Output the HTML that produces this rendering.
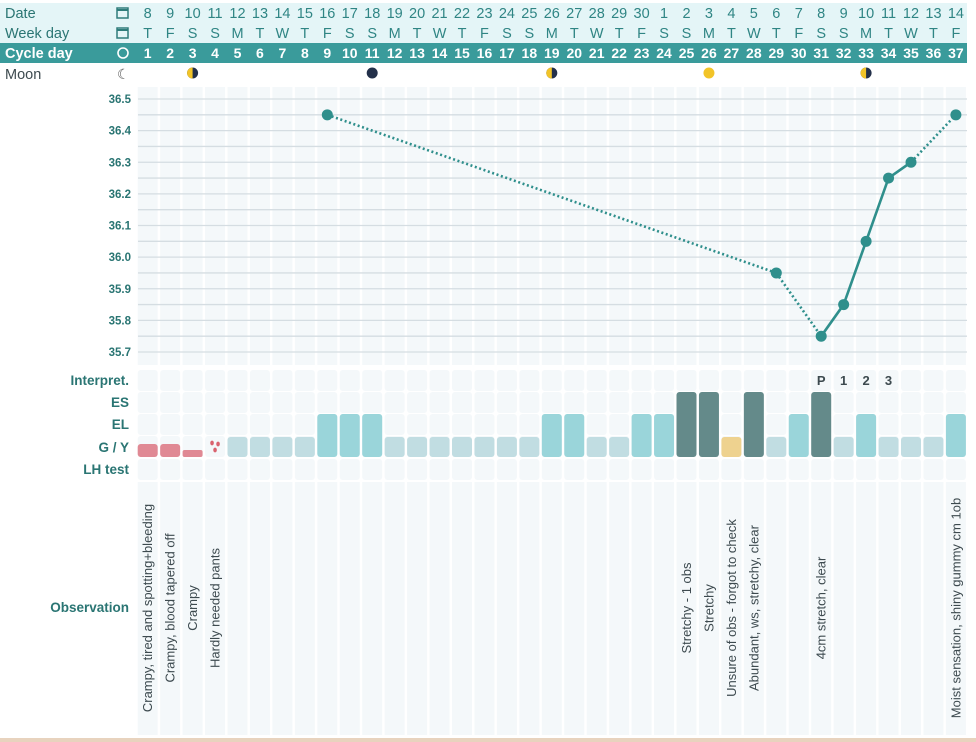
<!DOCTYPE html>
<html><head><meta charset="utf-8"><style>
html,body{margin:0;padding:0;background:#fff;}
svg{display:block;font-family:"Liberation Sans",sans-serif;}
</style></head><body>
<svg id="c" width="976" height="742" viewBox="0 0 976 742"></svg>
<script>
const dates=[8,9,10,11,12,13,14,15,16,17,18,19,20,21,22,23,24,25,26,27,28,29,30,1,2,3,4,5,6,7,8,9,10,11,12,13,14];
const weekdays=["T","F","S","S","M","T","W","T","F","S","S","M","T","W","T","F","S","S","M","T","W","T","F","S","S","M","T","W","T","F","S","S","M","T","W","T","F"];
const moonDays=[3,11,19,26,33];
const moonTypes=["first","new","last","full","first"];
const tempDays=[9,29,31,32,33,34,35,37];
const tempValues=[36.45,35.95,35.75,35.85,36.05,36.25,36.3,36.45];
const tempTicks=[36.5,36.4,36.3,36.2,36.1,36.0,35.9,35.8,35.7];
// mucus: 0 none,1 G/Y light,2 EL,3 ES dark,4 yellow,5 red,6 red small,7 drops
const mucus=[5,5,6,7,1,1,1,1,2,2,2,1,1,1,1,1,1,1,2,2,1,1,2,2,3,3,4,3,1,2,3,1,2,1,1,1,2];
const interpDays=[31,32,33,34];
const interpLabels=["P","1","2","3"];
const obsDays=[1,2,3,4,25,26,27,28,31,37];
const obsTexts=["Crampy, tired and spotting+bleeding","Crampy, blood tapered off","Crampy","Hardly needed pants","Stretchy - 1 obs","Stretchy","Unsure of obs - forgot to check","Abundant, ws, stretchy, clear","4cm stretch, clear","Moist sensation, shiny gummy cm 1ob"];

const svg=document.getElementById('c');
const NS="http://www.w3.org/2000/svg";
function mk(tag,attrs,parent){const e=document.createElementNS(NS,tag);for(const k in attrs)e.setAttribute(k,attrs[k]);(parent||svg).appendChild(e);return e;}
const X0=137.7,P=22.45,W=20;
const colL=d=>X0+(d-1)*P;
const colC=d=>colL(d)+W/2;
const yT=t=>99+(36.5-t)*316.25;
const N=dates.length;

let e=mk('rect',{x:0,y:3,width:967,height:40,fill:'#e4f5f7'});


e=mk('rect',{x:0,y:43,width:967,height:20,fill:'#3a9b9b'});


const rowLabels=[["Date",13,'#2a7573'],["Week day",33,'#2a7573'],["Cycle day",53,'#fff'],["Moon",74,'#3d4a4f']];
rowLabels.forEach(r=>{const t=mk('text',{x:5,y:r[1]+5,'font-size':14.5,fill:r[2],'font-weight':r[0]=="Cycle day"?'bold':'normal'});t.textContent=r[0];

});
[13,33].forEach(y=>{mk('rect',{x:117,y:y-5,width:11,height:10,fill:'none',stroke:'#2f7d7b','stroke-width':1.5});mk('line',{x1:117,y1:y-3,x2:128,y2:y-3,stroke:'#2f7d7b','stroke-width':2});});
mk('circle',{cx:123,cy:53,r:5,fill:'none',stroke:'#fff','stroke-width':1.6});
let mt=mk('text',{x:117,y:79,'font-size':14,fill:'#555'});mt.textContent='☾';

for(let i=0;i<N;i++){
 const d=i+1,cx=colC(d);
 let t=mk('text',{x:cx,y:18,'font-size':14.5,fill:'#2f8584','text-anchor':'middle'});t.textContent=dates[i];
 
 
 t=mk('text',{x:cx,y:38,'font-size':14.5,fill:'#2f8584','text-anchor':'middle'});t.textContent=weekdays[i];
 
 
 t=mk('text',{x:cx,y:58,'font-size':14,fill:'#fff','text-anchor':'middle','font-weight':'bold'});t.textContent=d;
 
 
 mk('rect',{x:colL(d),y:87,width:W,height:278,fill:'#f4f8fa'});
 [370,392,414,436,459].forEach(y=>mk('rect',{x:colL(d),y:y,width:W,height:21,rx:3,fill:'#f4f8fa'}));
 mk('rect',{x:colL(d),y:482,width:W,height:253,fill:'#f4f8fa'});
}
moonDays.forEach((d,i)=>{const cx=colC(d),cy=73,ty=moonTypes[i];let g=mk('g',{});
 
 
 if(ty=='new')mk('circle',{cx,cy,r:5.5,fill:'#23304a'},g);
 else if(ty=='full')mk('circle',{cx,cy,r:5.5,fill:'#f2c428'},g);
 else{mk('circle',{cx,cy,r:5.5,fill:'#23304a'},g);mk('path',{d:`M${cx} ${cy-5.5} A5.5 5.5 0 0 0 ${cx} ${cy+5.5}Z`,fill:'#f2c428'},g);}
});
for(let k=0;k<=16;k++){const t=36.5-k*0.05;mk('line',{x1:138,x2:967,y1:yT(t),y2:yT(t),stroke:'#d5dde2','stroke-width':1.3});}
tempTicks.forEach(t=>{const l=mk('text',{x:131,y:yT(t)+4,'font-size':11.5,fill:'#2a7573','text-anchor':'end','font-weight':'bold'});l.textContent=t.toFixed(1);
 
 });
for(let i=1;i<tempDays.length;i++){const gap=tempDays[i]-tempDays[i-1]>1;
 const ln=mk('line',{x1:colC(tempDays[i-1]),y1:yT(tempValues[i-1]),x2:colC(tempDays[i]),y2:yT(tempValues[i]),stroke:'#2f8f8c','stroke-width':gap?2.6:2.6,'stroke-dasharray':gap?'2 2.6':'none'});
 
 }
tempDays.forEach((d,i)=>{const c=mk('circle',{cx:colC(d),cy:yT(tempValues[i]),r:5.5,fill:'#2f8f8c'});
 
 });
[["Interpret.",385],["ES",407],["EL",429],["G / Y",452],["LH test",474],["Observation",612]].forEach(r=>{const t=mk('text',{x:129,y:r[1],'font-size':13.5,fill:'#2a7573','text-anchor':'end','font-weight':'bold'});t.textContent=r[0];
 
 });
interpDays.forEach((d,i)=>{const t=mk('text',{x:colC(d),y:385,'font-size':13,fill:'#3d4a4f','text-anchor':'middle','font-weight':'bold'});t.textContent=interpLabels[i];
 
 });
mucus.forEach((m,i)=>{const d=i+1,x=colL(d);let b=null;
 if(m==1)b=mk('rect',{x,y:437,width:W,height:20,rx:3,fill:'#c1dde2'});
 else if(m==2)b=mk('rect',{x,y:414,width:W,height:43,rx:3,fill:'#9ad5da'});
 else if(m==3)b=mk('rect',{x,y:392,width:W,height:65,rx:3,fill:'#648a8a'});
 else if(m==4)b=mk('rect',{x,y:437,width:W,height:20,rx:3,fill:'#eed28f'});
 else if(m==5)b=mk('rect',{x,y:444,width:W,height:13,rx:3,fill:'#e08994'});
 else if(m==6)b=mk('rect',{x,y:450,width:W,height:7,rx:2,fill:'#e08994'});
 else if(m==7){b=mk('g',{});[[-3,443],[3,444],[0,450]].forEach(p=>mk('ellipse',{cx:colC(d)+p[0],cy:p[1],rx:1.8,ry:2.4,fill:'#d9636f'},b));}
 if(b){
 }
});
obsDays.forEach((d,i)=>{const cx=colC(d)+4.5;const t=mk('text',{x:cx,y:608,'font-size':13,fill:'#3d4a4f','text-anchor':'middle',transform:`rotate(-90 ${cx} 608)`});t.textContent=obsTexts[i];
 
 });
e=mk('rect',{x:0,y:738,width:976,height:4,fill:'#e8d3be'});


</script>
</body></html>
